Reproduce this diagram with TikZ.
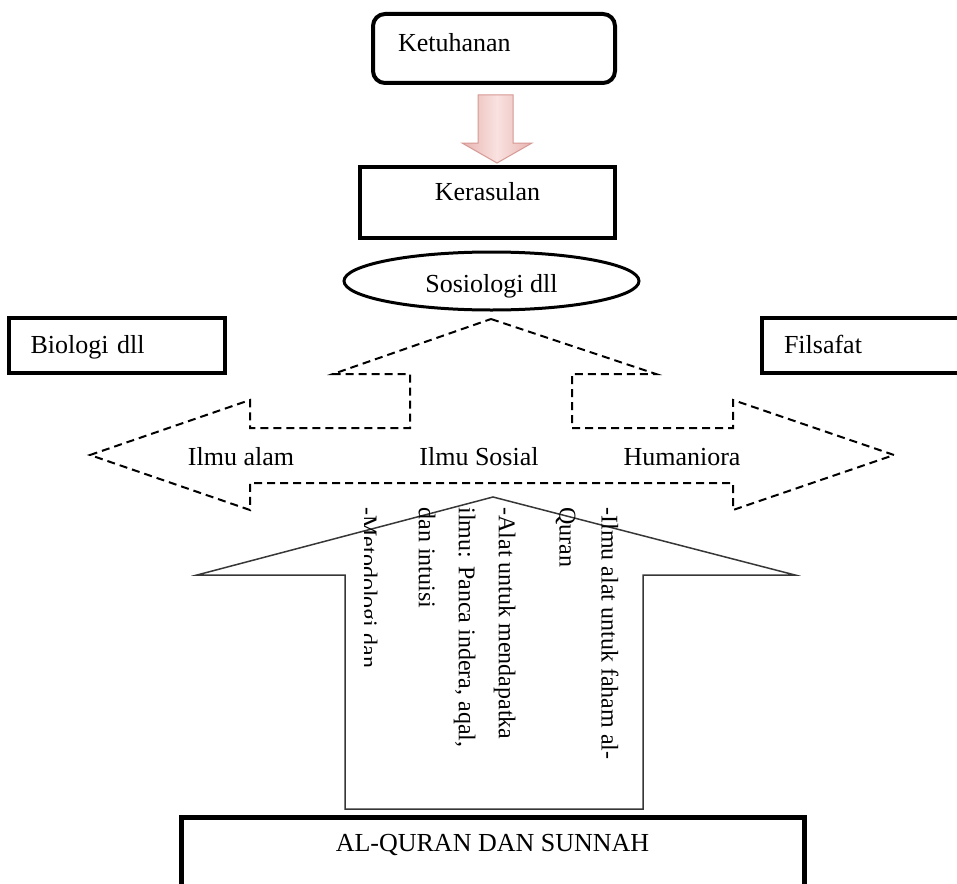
\documentclass[tikz,border=0pt]{standalone}
\usepackage{fontspec}
\setmainfont{Liberation Serif}
\usetikzlibrary{shapes.geometric}
\definecolor{softpink}{RGB}{249,226,224}
\definecolor{dustypink}{RGB}{232,180,176}
\definecolor{pinkline}{RGB}{214,152,148}
\definecolor{arrowgray}{RGB}{55,55,55}

\tikzset{
    labelbox/.style={draw, line width=2pt, inner sep=0pt, text height=9pt, font=\fontsize{13}{15}\selectfont},
    dashedarrow/.style={draw, line width=1pt, dash pattern=on 4pt off 2.5pt},
    note/.style={rotate=-90, anchor=north west, inner sep=0pt, align=left, font=\fontsize{12}{20}\selectfont}
}

\begin{document}
\begin{tikzpicture}[x=0.5pt, y=-0.5pt]
    \useasboundingbox (0,0) rectangle (957,883);

    \node[labelbox, rounded corners=6pt, text width=96pt, inner xsep=12.5pt, minimum height=34.5pt, align=left, text depth=5.5pt] (ketuhanan) at (494,48.5) {Ketuhanan};
    \shadedraw[left color=dustypink, right color=dustypink, middle color=softpink, draw=pinkline, line width=0.5pt]
        (478,95) -- (513,95) -- (513,143) -- (532,143) -- (497,163) -- (462,143) -- (478,143) -- cycle;
    \node[labelbox, minimum width=127.5pt, minimum height=35.5pt, text depth=11.5pt] (kerasulan) at (487.5,202.5) {Kerasulan};
    \node[labelbox, ellipse, line width=1.5pt, minimum width=147.5pt, minimum height=29pt, text height=12pt, text depth=1pt] (sosiologi) at (491.5,281) {Sosiologi dll};

    \node[labelbox, text width=86pt, inner xsep=11pt, minimum height=27.5pt, align=left, text depth=1.5pt] (biologi) at (116.5,345.5) {Biologi dll};
    \node[labelbox, text width=85pt, inner xsep=11pt, minimum height=27.5pt, align=left, text depth=1.5pt] (filsafat) at (869,345.5) {Filsafat};

    \draw[dashedarrow] (491,319) -- (656,374) -- (572,374) -- (572,428) -- (733,428) -- (733,400) -- (894,455)
        -- (733,510) -- (733,483) -- (250,483) -- (250,510) -- (90,455) -- (250,400) -- (250,428)
        -- (410,428) -- (410,374) -- (333,374) -- cycle;
    \node[anchor=base, font=\fontsize{13}{15}\selectfont] (ilmualam) at (241,465) {Ilmu alam};
    \node[anchor=base, font=\fontsize{13}{15}\selectfont] (ilmusosial) at (479,465) {Ilmu Sosial};
    \node[anchor=base, font=\fontsize{13}{15}\selectfont] (humaniora) at (682,465) {Humaniora};

    \draw[line width=0.75pt, arrowgray] (345,809) -- (345,575) -- (197,575) -- (493,497) -- (795,575) -- (643,575) -- (643,809) -- cycle;
    \node[note, font=\fontsize{12}{21}\selectfont] (faham) at (619,507) {-Ilmu alat untuk faham al-\\Quran};
    \node[note] (alat) at (516,507) {-Alat untuk mendapatka\\ilmu: Panca indera, aqal,\\dan intuisi};
    \begin{scope}
        \clip (364,490) rectangle (400,720);
        \node[note] (metodologi) at (378,507) {-Metodologi dan};
    \end{scope}

    \node[labelbox, line width=2.5pt, minimum width=311.5pt, minimum height=36.5pt, text depth=11.5pt] (sumber) at (492.5,853.5) {AL-QURAN DAN SUNNAH};
\end{tikzpicture}
\end{document}
